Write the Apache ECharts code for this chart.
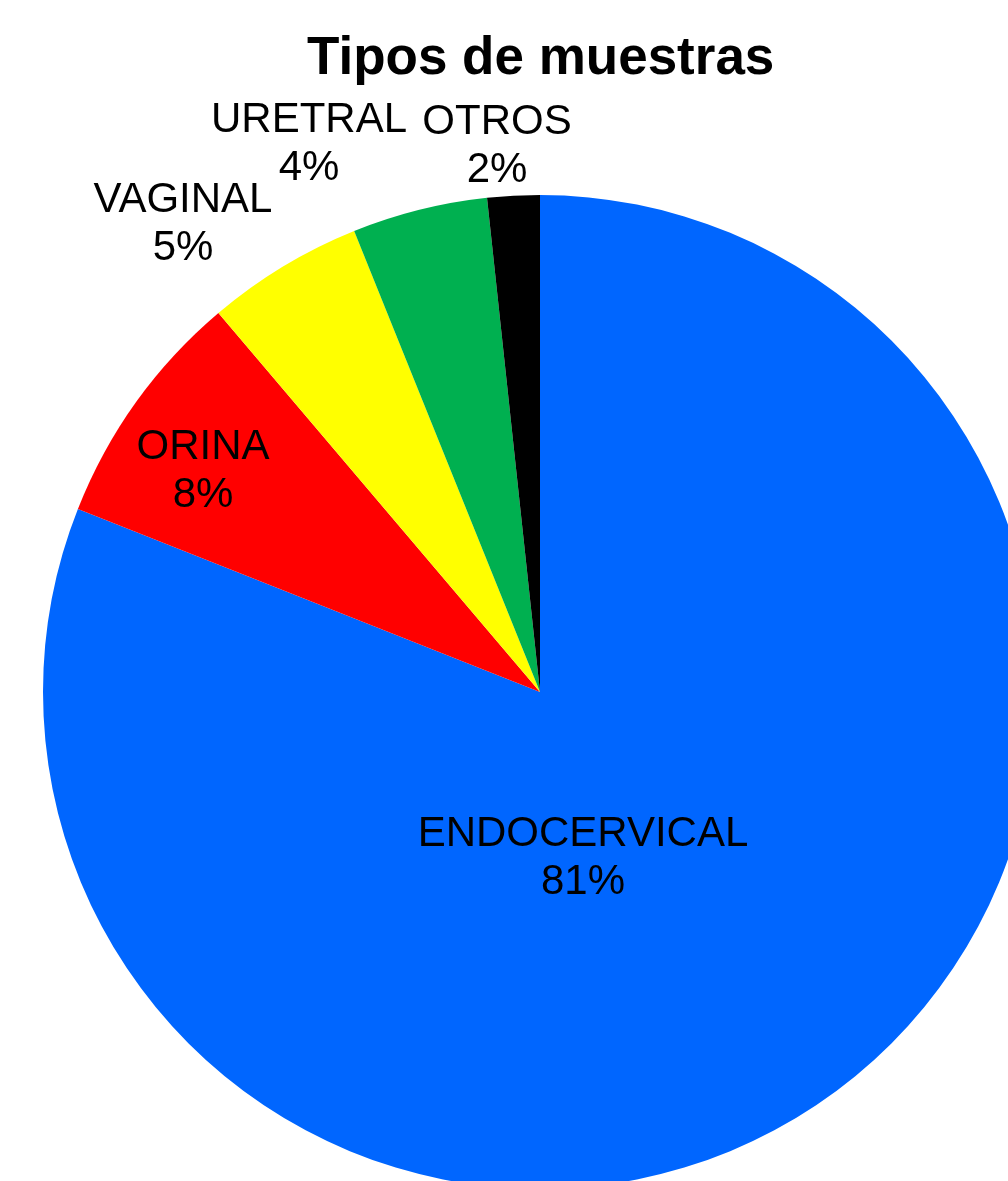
<!DOCTYPE html>
<html lang="es">
<head>
    <meta charset="UTF-8">
    <title>Tipos de muestras</title>
    <style>
        html, body { margin: 0; padding: 0; background: #fff; }
    </style>
</head>
<body>
<div id="main" style="width: 1008px;height:1181px;"></div>
</body>
<script src="https://cdn.jsdelivr.net/npm/echarts@6/dist/echarts.min.js"></script>
<script>

// data
const categories = ['ENDOCERVICAL', 'ORINA', 'VAGINAL', 'URETRAL', 'OTROS']
const values = [81.0, 7.8, 5.1, 4.4, 1.7]
const colors = ['#0066FF', '#FF0000', '#FFFF00', '#00B050', '#000000']

// pie placement and label offsets (from pie centre)
const CX = 540
const CY = 692
const R = 497
const labelOffsets = [[43, 166], [-337, -221], [-357, -468], [-231, -548], [-43, -546]]

let chartDom = document.getElementById('main');
let myChart = echarts.init(chartDom);

let pieData = categories.map((name, i) => ({
    name: name,
    value: values[i],
    itemStyle: { color: colors[i] }
}))

let option = {
    animation: false,
    title: {
        text: 'Tipos de muestras',
        left: 302,
        top: 28,
        textStyle: {
            fontFamily: 'Liberation Sans, Arial, sans-serif',
            fontSize: 53,
            fontWeight: 'bold',
            color: '#000'
        }
    },
    series: [
        {
            type: 'pie',
            center: [CX, CY],
            radius: [0, R],
            startAngle: 90,
            clockwise: true,
            data: pieData,
            label: {
                show: true,
                position: 'inside',
                formatter: p => p.name + '\n' + Math.round(p.percent) + '%',
                fontFamily: 'Liberation Sans, Arial, sans-serif',
                fontSize: 42,
                lineHeight: 48,
                color: '#000',
                align: 'center'
            },
            labelLine: { show: false },
            labelLayout: function (params) {
                let off = labelOffsets[params.dataIndex]
                return {
                    x: CX + off[0],
                    y: CY + off[1],
                    align: 'center',
                    verticalAlign: 'middle'
                }
            },
            emphasis: { disabled: true }
        }
    ]
}

option && myChart.setOption(option);

</script>
</html>
